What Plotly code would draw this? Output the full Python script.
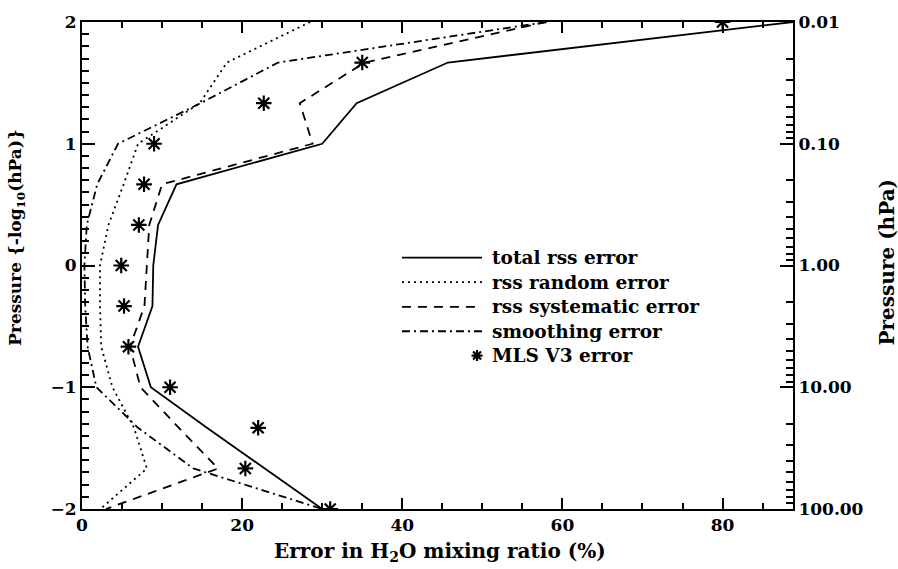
import plotly.graph_objects as go

# Retrieval levels, expressed as -log10(pressure / hPa)
levels = [2.0, 1.667, 1.333, 1.0, 0.667, 0.333, 0.0, -0.333, -0.667, -1.0, -1.333, -1.667, -2.0]

# Error components in H2O mixing ratio (%)
total_rss = [88.8, 45.7, 34.3, 30.0, 11.8, 9.5, 8.9, 8.8, 7.0, 8.6, 15.6, 22.8, 30.0]
rss_random = [28.5, 18.1, 14.7, 7.0, 5.2, 3.3, 2.25, 2.25, 2.4, 3.8, 6.5, 8.1, 2.3]
rss_systematic = [58.0, 35.3, 27.2, 28.8, 10.0, 8.4, 8.1, 7.8, 6.0, 7.3, 12.1, 17.0, 3.0]
smoothing = [58.0, 24.5, 14.8, 4.5, 1.9, 0.6, 0.3, 0.4, 0.7, 1.8, 7.0, 13.9, 30.0]
mls_v3 = [80.0, 35.0, 22.7, 9.0, 7.75, 7.1, 4.9, 5.25, 5.8, 11.0, 22.0, 20.4, 31.0]

# Axis ticks
x_major = [0, 20, 40, 60, 80]
y_major = [-2, -1, 0, 1, 2]
p_major = [0.01, 0.1, 1, 10, 100]
p_labels = ["0.01", "0.10", "1.00", "10.00", "100.00"]
p_minor = [k * 10.0 ** e for e in range(-2, 2) for k in range(2, 10)]

legend_names = ["total rss error", "rss random error", "rss systematic error",
                "smoothing error", "MLS V3 error"]

TICK_FONT = dict(family="DejaVu Serif", size=17, color="black", weight="bold")
KEY_FONT = dict(family="DejaVu Serif", size=18.5, color="black", weight="bold")
TITLE_FONT = dict(family="DejaVu Serif", size=20, color="black", weight="bold")
YTITLE_FONT = dict(family="DejaVu Serif", size=17, color="black", weight="bold")
DASHES = ["solid", "2px,4px", "9px,7px", "8px,4px,2px,4px"]

fig = go.Figure()

series = [total_rss, rss_random, rss_systematic, smoothing]
for vals, dash, name in zip(series, DASHES, legend_names):
    fig.add_trace(go.Scatter(x=vals, y=levels, mode="lines", name=name,
                             line=dict(color="black", width=1.8, dash=dash),
                             showlegend=False))

fig.add_trace(go.Scatter(x=mls_v3, y=levels, mode="markers", name=legend_names[4],
                         marker=dict(symbol="asterisk-open", size=13, color="black",
                                     line=dict(color="black", width=2.2)),
                         showlegend=False))

# Pressure axis on the right carries the same levels in hPa
fig.add_trace(go.Scatter(x=mls_v3, y=[10 ** (-v) for v in levels], yaxis="y2",
                         mode="markers", marker=dict(opacity=0), showlegend=False,
                         hoverinfo="skip"))

# Hand-drawn key inside the plot
key_x0, key_x1, key_text_x = 0.450, 0.5626, 0.574
key_rows = [0.516, 0.466, 0.415, 0.365, 0.315]
shapes = []
for row, dash in zip(key_rows[:4], DASHES):
    shapes.append(dict(type="line", xref="paper", yref="paper",
                       x0=key_x0, x1=key_x1, y0=row, y1=row,
                       line=dict(color="black", width=1.8, dash=dash)))
shapes.append(dict(type="path", xref="paper", yref="paper",
                   xsizemode="pixel", ysizemode="pixel",
                   xanchor=0.5556, yanchor=key_rows[4],
                   path="M-5.5,0L5.5,0M0,-5.5L0,5.5M-4,-4L4,4M-4,4L4,-4",
                   line=dict(color="black", width=2.2)))

annotations = []
for row, name in zip(key_rows, legend_names):
    annotations.append(dict(text=name, xref="paper", yref="paper", x=key_text_x, y=row,
                            xanchor="left", yanchor="middle", showarrow=False, font=KEY_FONT))

annotations += [
    dict(text="Error in H<sub>2</sub>O mixing ratio (%)", xref="paper", yref="paper",
         x=0.504, y=-0.089, xanchor="center", yanchor="middle", showarrow=False,
         font=TITLE_FONT),
    dict(text="Pressure {-log<sub>10</sub>(hPa)}", xref="paper", yref="paper",
         x=-0.092, y=0.558, xanchor="center", yanchor="middle", textangle=-90,
         showarrow=False, font=YTITLE_FONT),
    dict(text="Pressure (hPa)", xref="paper", yref="paper",
         x=1.132, y=0.508, xanchor="center", yanchor="middle", textangle=-90,
         showarrow=False, font=TITLE_FONT),
]

fig.update_layout(
    width=898, height=569,
    margin=dict(l=82, r=105, t=13, b=60),
    paper_bgcolor="white", plot_bgcolor="white",
    font=TICK_FONT,
    showlegend=False,
    shapes=shapes,
    annotations=annotations,
    xaxis=dict(range=[0, 88.8], tickvals=x_major, ticks="inside", ticklen=11,
               tickwidth=1.5, tickcolor="black", showline=True, linecolor="black",
               linewidth=2, mirror="ticks", showgrid=False, zeroline=False,
               minor=dict(dtick=5, ticks="inside", ticklen=6, tickwidth=1.5,
                          tickcolor="black", showgrid=False),
               tickfont=TICK_FONT),
    yaxis=dict(range=[-2, 2], tickvals=y_major, ticktext=["\u22122", "\u22121", "0", "1", "2"],
               ticks="inside", ticklen=13, tickwidth=1.5, tickcolor="black",
               showline=True, linecolor="black", linewidth=2, mirror=False,
               showgrid=False, zeroline=False,
               minor=dict(dtick=0.1, ticks="inside", ticklen=7, tickwidth=1.5,
                          tickcolor="black", showgrid=False),
               tickfont=TICK_FONT),
    yaxis2=dict(type="log", range=[2, -2], overlaying="y", side="right", anchor="x",
                tickvals=p_major, ticktext=p_labels, ticks="inside", ticklen=13,
                tickwidth=1.5, tickcolor="black", showline=True, linecolor="black",
                linewidth=2, showgrid=False, zeroline=False,
                minor=dict(tickvals=p_minor, ticks="inside", ticklen=7, tickwidth=1.5,
                           tickcolor="black", showgrid=False),
                tickfont=TICK_FONT),
)

fig.write_html("out.html")
